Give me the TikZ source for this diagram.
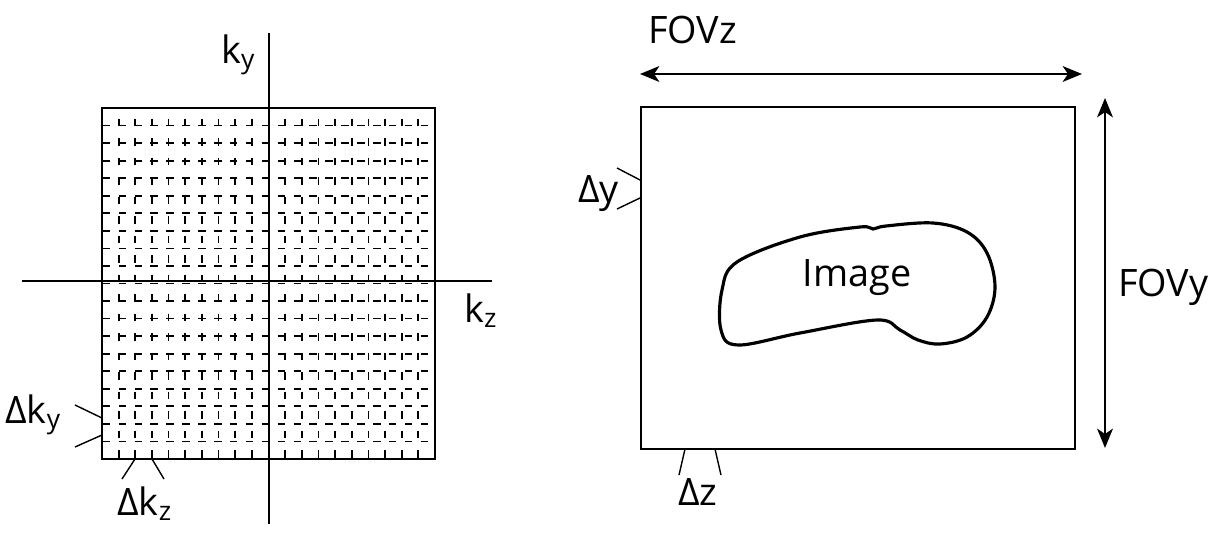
\documentclass[tikz,border=0pt]{standalone}
\usepackage{fontspec}
\setmainfont{Open Sans}
\usetikzlibrary{arrows.meta,positioning}

\begin{document}
\begin{tikzpicture}[x=0.02cm,y=-0.02cm,
		axis/.style={line width=1.1pt},
		frame/.style={line width=1.1pt},
		kline/.style={line width=1pt},
		tick/.style={line width=0.8pt},
		blob/.style={line width=1.8pt},
		lbl/.style={font=\fontsize{21.5}{24}\selectfont,inner sep=0pt},
		span/.style={line width=1pt,{Stealth[length=11pt,width=9pt,inset=3pt]}-{Stealth[length=11pt,width=9pt,inset=3pt]}}]
		\useasboundingbox (0,0) rectangle (1220,534);
		
		% Sample grid in k-space
		\foreach \i in {1,...,19}{
			\draw[kline,dash pattern=on 4.3pt off 4.75pt,dash phase=5.8pt] (97,108+17.55*\i) -- (435,108+17.55*\i);
			\draw[kline,dash pattern=on 4.3pt off 6.8pt,dash phase=5.1pt] (102+16.65*\i,108) -- (102+16.65*\i,459);
		}
		\draw[frame] (102,108) rectangle (435,459);
		
		% Set up the axes
		\coordinate (KyTop) at (269,33);
		\coordinate (KyBot) at (269,524);
		\coordinate (KzLeft) at (22,281);
		\coordinate (KzRight) at (492,281);
		\draw[axis] (KyTop) -- (KyBot);
		\draw[axis] (KzLeft) -- (KzRight);
		\node[lbl,anchor=base west] (ky) at (221,63) {k\textsubscript{y}};
		\node[lbl,anchor=base west] (kz) at (464,322) {k\textsubscript{z}};
		
		% Spacing marks
		\coordinate (DkyA) at (102,418);
		\coordinate (DkyB) at (102,435);
		\coordinate (DkyA') at (75,405);
		\coordinate (DkyB') at (75,447);
		\draw[tick] (DkyA) -- (DkyA');
		\draw[tick] (DkyB) -- (DkyB');
		\node[lbl,anchor=base west] (dky) at (5,423) {Δk\textsubscript{y}};
		\coordinate (DkzA) at (135,459);
		\coordinate (DkzB) at (152,459);
		\coordinate (DkzA') at (122,479);
		\coordinate (DkzB') at (164,479);
		\draw[tick] (DkzA) -- (DkzA');
		\draw[tick] (DkzB) -- (DkzB');
		\node[lbl,anchor=base west] (dkz) at (117,515) {Δk\textsubscript{z}};
		
		% Image space
		\node[draw,frame,minimum width=434*0.02cm,minimum height=342*0.02cm,inner sep=0pt] (fov) at (858,278) {};
		\draw[blob] plot[smooth cycle,tension=0.6] coordinates {(737,262) (800,237) (860,227) (873,229) (886,226) (933,223) (967,232) (987,253) (995,287) (987,317) (967,337) (940,344) (918,340) (900,330) (877,320) (800,333) (738,345) (721,330) (722,290)};
		\node[lbl] (img) at (857,278) {Image};
		
		% Field of view arrows
		\coordinate (FzL) at (640,74);
		\coordinate (FzR) at (1082,74);
		\coordinate (FyT) at (1105,98);
		\coordinate (FyB) at (1105,448);
		\draw[span] (FzL) -- (FzR);
		\draw[span] (FyT) -- (FyB);
		\node[lbl,anchor=base west] (fovz) at (648,43) {FOVz};
		\node[lbl,anchor=base west] (fovy) at (1118,296) {FOVy};
		
		% Pixel size marks
		\coordinate (DyA) at (fov.west |- 0,180);
		\coordinate (DyB) at (fov.west |- 0,198);
		\coordinate (DyA') at (617,168);
		\coordinate (DyB') at (617,209);
		\draw[tick] (DyA) -- (DyA');
		\draw[tick] (DyB) -- (DyB');
		\node[lbl,anchor=base west] (dy) at (578,202) {Δy};
		\coordinate (DzA) at (685,449);
		\coordinate (DzB) at (715,449);
		\coordinate (DzA') at (679,475);
		\coordinate (DzB') at (721,475);
		\draw[tick] (DzA) -- (DzA');
		\draw[tick] (DzB) -- (DzB');
		\node[lbl,anchor=base west] (dz) at (678,505) {Δz};
	\end{tikzpicture}
\end{document}
